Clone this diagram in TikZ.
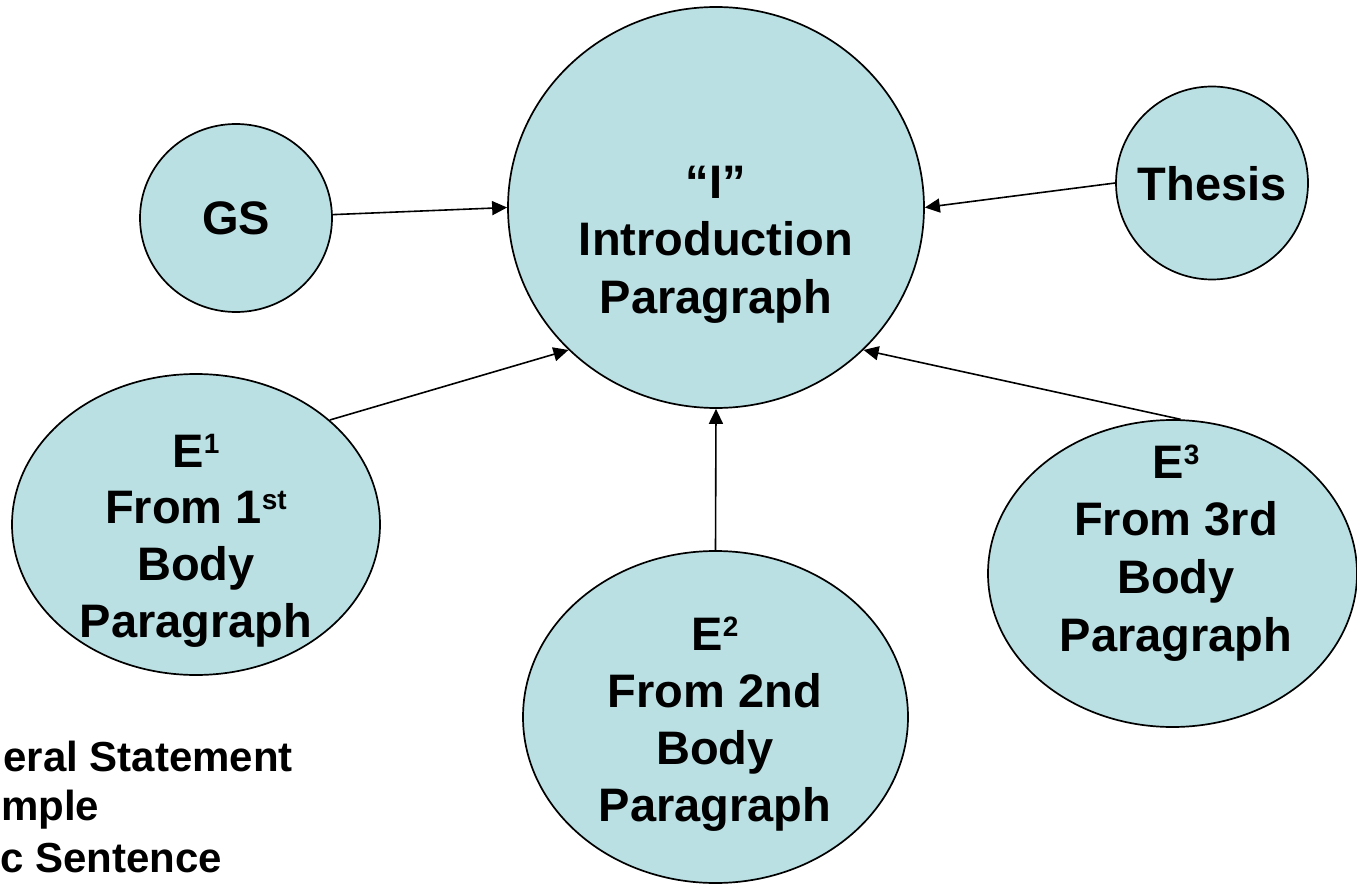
\documentclass[tikz,border=0pt]{standalone}
\usepackage{fontspec}
\setmainfont{Liberation Sans}
\usetikzlibrary{arrows.meta,shapes.geometric}
\definecolor{bubble}{RGB}{186,224,227}
\newcommand{\supx}[1]{\raisebox{14pt}{\fontsize{28}{28}\selectfont #1}}
\begin{document}
\begin{tikzpicture}[x=1pt,y=-1pt,
  bub/.style={ellipse, draw=black, fill=bubble, line width=1.7pt, inner sep=0pt},
  txt/.style={anchor=base, inner sep=0pt, font=\fontsize{47}{57}\selectfont\bfseries},
  legend/.style={anchor=base east, inner sep=0pt, font=\fontsize{42}{50}\selectfont\bfseries},
  conn/.style={line width=1.6pt, -{Triangle[length=15pt,width=14pt]}}]
\useasboundingbox[fill=white] (0,0) rectangle (1357,885);
\clip (0,0) rectangle (1357,885);
% bubbles
\node[bub, minimum width=416pt, minimum height=401pt] (intro) at (716,207.5) {};
\node[bub, minimum width=192pt, minimum height=188pt] (gs) at (236,218) {};
\node[bub, minimum width=192pt, minimum height=193pt] (thesis) at (1212,183) {};
\node[bub, minimum width=368pt, minimum height=301pt] (e1) at (196,524.5) {};
\node[bub, minimum width=385pt, minimum height=332pt] (e2) at (715.5,717) {};
\node[bub, minimum width=369pt, minimum height=307pt] (e3) at (1172.5,573.5) {};
% connectors
\draw[conn] (gs.2) -- (intro.180);
\draw[conn] (thesis.180) -- (intro.0);
\draw[conn] (e1.38) -- (intro.224);
\draw[conn] (e2.north) -- (intro.south);
\draw[conn] (e3.87) -- (intro.316);
% texts
\node[txt] (i1) at (716,199) {“I”};
\node[txt] (i2) at (716,256) {Introduction};
\node[txt] (i3) at (716,313) {Paragraph};
\node[txt] (g1) at (236,235) {GS};
\node[txt] (t1) at (1212,201) {Thesis};
\node[txt] (a1) at (196,467) {E\supx{1}};
\node[txt] (a2) at (196,523) {From 1\supx{st}};
\node[txt] (a3) at (196,580) {Body};
\node[txt] (a4) at (196,637) {Paragraph};
\node[txt] (b1) at (715,650) {E\supx{2}};
\node[txt] (b2) at (715,707) {From 2nd};
\node[txt] (b3) at (715,764) {Body};
\node[txt] (b4) at (715,821) {Paragraph};
\node[txt] (c1) at (1176,478) {E\supx{3}};
\node[txt] (c2) at (1176,535) {From 3rd};
\node[txt] (c3) at (1176,593) {Body};
\node[txt] (c4) at (1176,651) {Paragraph};
% legend (at left edge)
\node[legend] (l1) at (293,771) {eral Statement};
\node[legend, anchor=base west] (l2) at (1,820) {mple};
\node[legend] (l3) at (222,872) {c Sentence};
\end{tikzpicture}
\end{document}
